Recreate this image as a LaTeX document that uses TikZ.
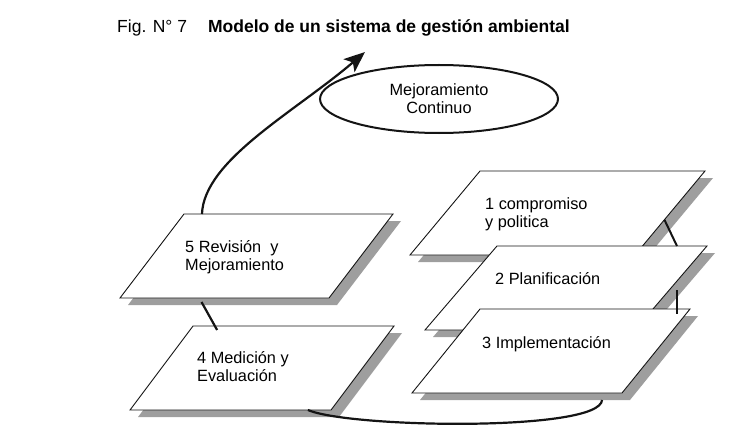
\documentclass[tikz,border=0pt]{standalone}
\usepackage{fontspec}
\setmainfont{Liberation Sans}
\usetikzlibrary{positioning, arrows.meta, shapes.geometric, calc}
\definecolor{slabShade}{RGB}{158, 158, 158}
\definecolor{lineDark}{RGB}{20, 20, 20}

\begin{document}
\begin{tikzpicture}[
    x=1pt, y=-1pt,
    every node/.style={font=\fontsize{16.3}{18}\selectfont, inner sep=0pt},
    slab/.style={draw=lineDark, line width=0.9pt, fill=white},
    slabshade/.style={fill=slabShade},
    slabtext/.style={anchor=base west, align=left},
    link/.style={draw=lineDark, line width=2.2pt},
    goal/.style={
        ellipse, draw=lineDark, line width=2pt, fill=white,
        minimum width=238pt, minimum height=68pt, align=center
    }
]
\useasboundingbox (0,0) rectangle (730,433);

% --- Title ----------------------------------------------------------------
\node[anchor=base west, font=\fontsize{17.5}{20}\selectfont] (title) at (117,33)
    {Fig. N° 7\hspace{21pt}\textbf{Modelo de un sistema de gestión ambiental}};

% --- Slabs: name / bottom-left x / y / width / slant ------------------------
\foreach \nm/\bx/\by/\w/\dx in {s1/410/255/225/70, s2/425/330/210/72, s3/412/393/210/68,
                               s5/120/298/209/64, s4/130/410/201/63}{
    \coordinate (\nm-bl) at (\bx,\by);
    \coordinate (\nm-br) at (\bx+\w,\by);
    \coordinate (\nm-tr) at (\bx+\w+\dx,\by-84);
    \coordinate (\nm-tl) at (\bx+\dx,\by-84);
    \fill[slabshade] ([shift={(8,7)}]\nm-bl) -- ([shift={(8,7)}]\nm-br)
        -- ([shift={(8,7)}]\nm-tr) -- ([shift={(8,7)}]\nm-tl) -- cycle;
    \draw[slab] (\nm-bl) -- (\nm-br) -- (\nm-tr) -- (\nm-tl) -- cycle;
}

% --- Slab texts (base = last line) --------------------------------------------
\node[slabtext] (t1) at (485,227) {1 compromiso\\y politica};
\node[slabtext] (t2) at (495,284) {2 Planificación};
\node[slabtext] (t3) at (482,348) {3 Implementación};
\node[slabtext] (t5) at (185,270) {5 Revisión~ y\\Mejoramiento};
\node[slabtext] (t4) at (197,381) {4 Medición y\\Evaluación};

% --- Goal ellipse -------------------------------------------------------------
\node[goal] (mejora) at (439,99) {Mejoramiento\\Continuo};
\coordinate (tip) at (365,52);

% --- Links between slabs ------------------------------------------------------
\draw[link, line width=2pt] ($(s1-br)!0.42!(s1-tr)$) -- ($(s2-tl)!0.857!(s2-tr)$);
\coordinate (s3-hook) at ($(s3-tl)!0.938!(s3-tr)$);
\coordinate (s2-hook) at ($(s3-hook)+(0,-19)$);
\draw[link, line width=2.8pt] (s2-hook) -- ($(s3-hook)+(0,5)$);
\draw[link] ($(s5-bl)!0.39!(s5-br)+(0,4)$) -- ($(s4-tl)!0.12!(s4-tr)+(0,4)$);
% bottom loop from 4 back to 3
\draw[link] ($(s4-bl)!0.885!(s4-br)$) .. controls (350,428) and (600,432)
    .. ($(s3-bl)!0.905!(s3-br)+(0,7)$);
% upward arrow from 5 past the ellipse
\draw[link, -{Stealth[length=21pt, width=17pt, inset=5pt]}]
    ($(s5-tl)!0.086!(s5-tr)$) .. controls (204,160) and (295,112) .. (tip);

\end{tikzpicture}
\end{document}
